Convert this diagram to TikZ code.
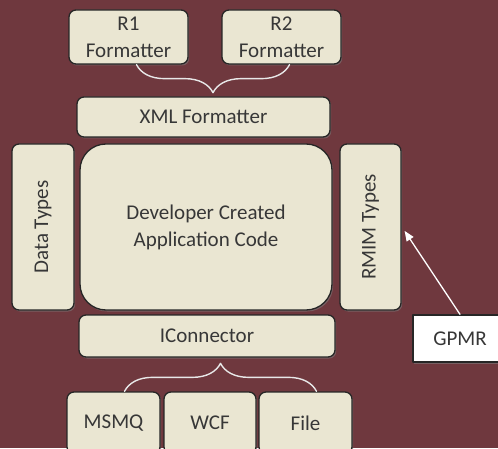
\documentclass[tikz,border=0pt]{standalone}
\usepackage{fontspec}
\setmainfont{Carlito}
\usetikzlibrary{arrows}
\usetikzlibrary{decorations.pathreplacing}
\usetikzlibrary{shadows}
\definecolor{maroon}{RGB}{111,56,62}
\definecolor{beige}{RGB}{234,230,210}
\definecolor{inktext}{RGB}{55,55,55}
\definecolor{bracegray}{RGB}{232,232,232}

\begin{document}
\begin{tikzpicture}[line cap=round,line join=round,>=stealth,x=1pt,y=1pt,
  box/.style={draw=black!85,line width=1.3pt,fill=beige,rounded corners=7pt,
    text=inktext,align=center,inner sep=0pt,
    drop shadow={shadow xshift=1.2pt,shadow yshift=-1.5pt,opacity=0.55},
    font=\fontsize{21}{27}\selectfont},
  bracket/.style={draw=bracegray,line width=1.4pt,decorate,
    decoration={brace,amplitude=28pt}}]
\useasboundingbox (0,0) rectangle (498,448);
\fill[maroon] (0,0) rectangle (498,448);
%
% formatters
\node[box,minimum width=119,minimum height=54] (r1) at (128.5,411) {R1\\Formatter};
\node[box,minimum width=119,minimum height=54] (r2) at (281.5,411) {R2\\Formatter};
\node[box,minimum width=253,minimum height=40] (xml) at (203.5,331) {XML Formatter};
\draw[bracket] ([xshift=8]r2.south) -- ([xshift=8]r1.south);
%
% middle row
\node[box,rotate=90,minimum width=166,minimum height=62] (data) at (43,221) {Data Types};
\node[box,rounded corners=26pt,minimum width=252,minimum height=166] (dev) at (206,221)
  {Developer Created\\Application Code};
\node[box,rotate=90,minimum width=166,minimum height=61] (rmim) at (370.5,221) {RMIM Types};
%
% connectors
\node[box,minimum width=256,minimum height=42] (icon) at (207,112) {IConnector};
\node[box,minimum width=93,minimum height=62] (msmq) at (113.5,25) {MSMQ};
\node[box,minimum width=92,minimum height=62] (wcf) at (210,25) {WCF};
\node[box,minimum width=93,minimum height=62] (file) at (305.5,25) {File};
\draw[bracket] ([xshift=11]msmq.north) -- ([xshift=11]file.north);
%
% GPMR
\node[box,fill=white,rounded corners=0pt,minimum width=94,minimum height=47] (gpmr) at (460,109.5) {GPMR};
\draw[-triangle 45,draw=white,line width=1.3pt] (gpmr.north) -- ([xshift=3,yshift=-4]rmim.south);
\end{tikzpicture}
\end{document}
